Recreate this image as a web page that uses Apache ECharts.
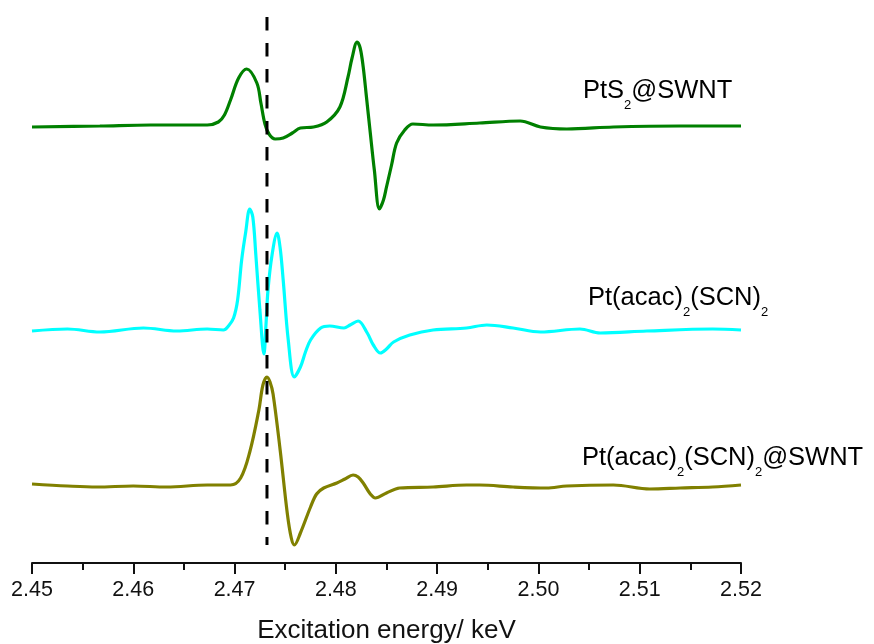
<!DOCTYPE html>
<html>
<head>
<meta charset="utf-8">
<script src="https://cdn.jsdelivr.net/npm/echarts@6/dist/echarts.min.js"></script>
<style>html,body{margin:0;padding:0;background:#fff;}#c{width:874px;height:644px;}</style>
</head>
<body>
<div id="c"></div>
<script>
// Excitation energy (keV) and derivative signal (arbitrary units)
const greenEnergy = [2.4500, 2.4567, 2.4617, 2.4673, 2.4684, 2.4690, 2.4696, 2.4704, 2.4712, 2.4722, 2.4726, 2.4730, 2.4734, 2.4740, 2.4748, 2.4757, 2.4765, 2.4778, 2.4791, 2.4804, 2.4812, 2.4816, 2.4821, 2.4824, 2.4827, 2.4830, 2.4834, 2.4838, 2.4843, 2.4847, 2.4850, 2.4855, 2.4860, 2.4868, 2.4876, 2.4896, 2.4942, 2.4982, 2.5002, 2.5028, 2.5074, 2.5140, 2.5200];
const greenSignal = [-0.01, 0, 0.01, 0.01, 0.04, 0.11, 0.26, 0.48, 0.57, 0.43, 0.23, 0.02, -0.08, -0.13, -0.12, -0.07, -0.02, -0.01, 0.04, 0.19, 0.49, 0.68, 0.84, 0.78, 0.59, 0.31, -0.07, -0.44, -0.83, -0.74, -0.61, -0.39, -0.17, -0.04, 0.02, 0.01, 0.03, 0.05, -0.01, -0.03, -0.01, 0, 0];

const cyanEnergy = [2.4500, 2.4535, 2.4567, 2.4610, 2.4643, 2.4673, 2.4689, 2.4694, 2.4699, 2.4703, 2.4707, 2.4711, 2.4715, 2.4718, 2.4721, 2.4725, 2.4729, 2.4731, 2.4733, 2.4737, 2.4742, 2.4745, 2.4748, 2.4753, 2.4759, 2.4765, 2.4770, 2.4775, 2.4785, 2.4794, 2.4808, 2.4814, 2.4822, 2.4831, 2.4837, 2.4844, 2.4850, 2.4857, 2.4873, 2.4896, 2.4929, 2.4949, 2.4975, 2.5002, 2.5041, 2.5061, 2.5107, 2.5172, 2.5200];
const cyanSignal = [-0.01, 0.01, -0.02, 0.02, -0.01, 0.01, 0, 0.04, 0.12, 0.30, 0.70, 0.98, 1.21, 1.13, 0.75, 0.20, -0.24, 0.05, 0.40, 0.75, 0.97, 0.82, 0.50, -0.10, -0.47, -0.37, -0.22, -0.10, 0.02, 0.04, 0.02, 0.05, 0.09, -0.03, -0.15, -0.23, -0.19, -0.12, -0.05, 0, 0.02, 0.05, 0.02, -0.02, 0.01, -0.03, -0.01, 0.01, 0];

const oliveEnergy = [2.4500, 2.4535, 2.4564, 2.4600, 2.4633, 2.4673, 2.4696, 2.4706, 2.4715, 2.4724, 2.4728, 2.4732, 2.4735, 2.4738, 2.4745, 2.4752, 2.4756, 2.4759, 2.4765, 2.4775, 2.4781, 2.4788, 2.4801, 2.4809, 2.4817, 2.4822, 2.4827, 2.4834, 2.4839, 2.4850, 2.4863, 2.4896, 2.4929, 2.4942, 2.4975, 2.5008, 2.5028, 2.5074, 2.5110, 2.5140, 2.5172, 2.5200];
const oliveSignal = [0.01, -0.01, -0.02, -0.01, -0.02, 0, 0, 0.07, 0.33, 0.75, 1.00, 1.08, 1.03, 0.91, 0.35, -0.28, -0.53, -0.60, -0.48, -0.22, -0.09, -0.03, 0.02, 0.06, 0.10, 0.08, 0.02, -0.09, -0.13, -0.08, -0.03, -0.02, 0, 0, -0.02, -0.03, -0.01, 0, -0.04, -0.03, -0.02, 0];

const xTicks = [2.45, 2.46, 2.47, 2.48, 2.49, 2.50, 2.51, 2.52];
const refEnergy = 2.4732;

// vertical stacking offsets (layout)
const offsets = { green: 4.37, cyan: 2.33, olive: 0.78 };
const refSpan = [5.46, 0.18];

function pairs(xs, ys, off) { return xs.map((x, i) => [x, ys[i] + off]); }

const FONT = "'Liberation Sans', Arial, sans-serif";
const chart = echarts.init(document.getElementById('c'), null, { renderer: 'canvas' });

function richLabel(text) {
  return {
    text: text,
    rich: {
      a: { fontSize: 25.5, fontFamily: FONT, color: '#111', verticalAlign: 'top' },
      s: { fontSize: 13, fontFamily: FONT, color: '#111', verticalAlign: 'top', padding: [21, 0, 0, 0] }
    },
    verticalAlign: 'top',
    align: 'left'
  };
}

chart.setOption({
  animation: false,
  backgroundColor: '#fff',
  grid: { left: 32, right: 133, top: 10, bottom: 81, containLabel: false, outerBoundsMode: 'none' },
  xAxis: {
    type: 'value', min: xTicks[0], max: xTicks[xTicks.length - 1], interval: 0.01,
    name: 'Excitation energy/ keV', nameLocation: 'middle', nameGap: 55,
    nameTextStyle: { fontSize: 26, fontFamily: FONT, color: '#111' },
    axisLine: { show: true, lineStyle: { color: '#111', width: 2 } },
    axisTick: { show: true, length: 11, lineStyle: { color: '#111', width: 2 } },
    minorTick: { show: true, splitNumber: 2, length: 7, lineStyle: { color: '#111', width: 2 } },
    axisLabel: { fontSize: 21.5, fontFamily: FONT, color: '#111', margin: 16, formatter: v => v.toFixed(2) },
    splitLine: { show: false }
  },
  yAxis: { type: 'value', min: 0, max: 5.53, show: false },
  series: [
    { name: 'PtS2@SWNT', type: 'line', data: pairs(greenEnergy, greenSignal, offsets.green), showSymbol: false, smooth: 0.35, lineStyle: { color: '#008000', width: 3.2 } },
    { name: 'Pt(acac)2(SCN)2', type: 'line', data: pairs(cyanEnergy, cyanSignal, offsets.cyan), showSymbol: false, smooth: 0.35, lineStyle: { color: '#00FFFF', width: 3.2 } },
    { name: 'Pt(acac)2(SCN)2@SWNT', type: 'line', data: pairs(oliveEnergy, oliveSignal, offsets.olive), showSymbol: false, smooth: 0.35, lineStyle: { color: '#808000', width: 3.2 } },
    { name: 'ref', type: 'line', data: [[refEnergy, refSpan[0]], [refEnergy, refSpan[1]]], showSymbol: false, lineStyle: { color: '#000', width: 3, type: [13.5, 12.5] }, z: 5 }
  ],
  graphic: [
    { type: 'text', left: 583, top: 78, style: richLabel('{a|PtS}{s|2}{a|@SWNT}') },
    { type: 'text', left: 588, top: 285, style: richLabel('{a|Pt(acac)}{s|2}{a|(SCN)}{s|2}') },
    { type: 'text', left: 582, top: 445, style: richLabel('{a|Pt(acac)}{s|2}{a|(SCN)}{s|2}{a|@SWNT}') }
  ]
});
</script>
</body>
</html>
